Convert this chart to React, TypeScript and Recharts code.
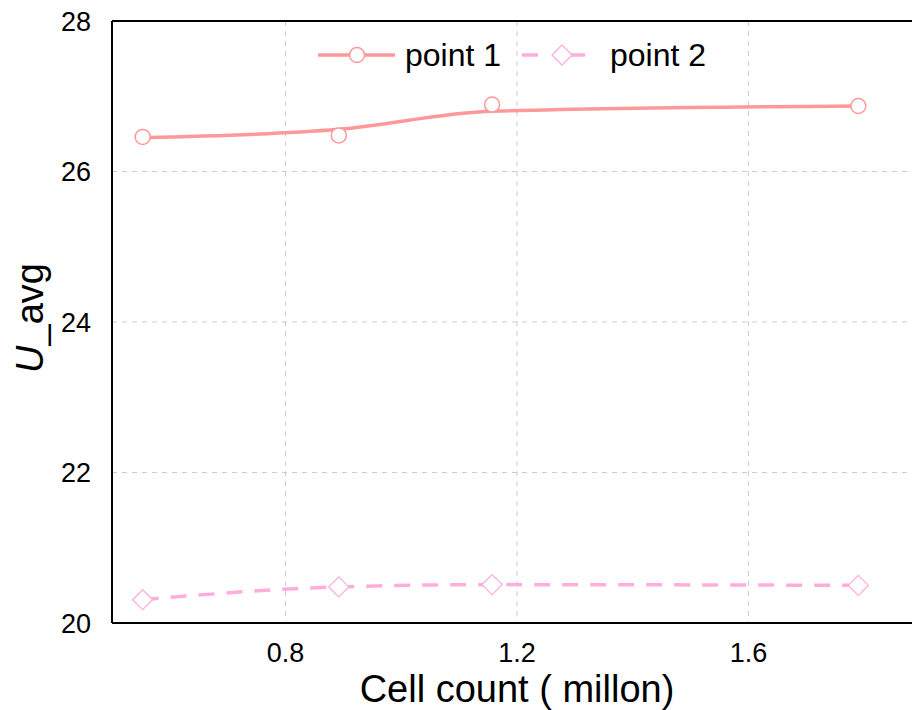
import React from 'react';
import { LineChart, Line, XAxis, YAxis, CartesianGrid, ReferenceLine } from 'recharts';

// cell counts (millions) of the four meshes
const cellCounts = [0.553, 0.892, 1.157, 1.79];
// measured U_avg values (markers)
const point1 = [26.46, 26.48, 26.89, 26.87];
const point2 = [20.31, 20.48, 20.51, 20.5];
// smoothed curve drawn through point 1
const point1Curve = [26.45, 26.56, 26.8, 26.87];

const xTicks = [0.8, 1.2, 1.6];
const yTicks = [20, 22, 24, 26, 28];

const COLOR_1 = '#ff9999';
const COLOR_2 = '#ffaedc';
const FONT = '"Liberation Sans", Arial, sans-serif';

const data = cellCounts.map((x, i) => ({
  x,
  p1: point1[i],
  p1Curve: point1Curve[i],
  p2: point2[i],
}));

const CircleDot = (props: any) => {
  const { cx, cy, index } = props;
  if (cx == null || cy == null) return <g key={`c-${index}`} />;
  return <circle key={`c-${index}`} cx={cx} cy={cy} r={7.5} fill="#fff" stroke={COLOR_1} strokeWidth={1.5} />;
};

const DiamondDot = (props: any) => {
  const { cx, cy, index } = props;
  if (cx == null || cy == null) return <g key={`d-${index}`} />;
  const s = 10;
  return (
    <path
      key={`d-${index}`}
      d={`M${cx},${cy - s} L${cx + s},${cy} L${cx},${cy + s} L${cx - s},${cy} Z`}
      fill="#fff"
      stroke={COLOR_2}
      strokeWidth={1.3}
    />
  );
};

// legend drawn on top of the plot, like the original
const LegendOverlay = () => (
  <svg width={912} height={90} style={{ position: 'absolute', left: 0, top: 0, pointerEvents: 'none' }}>
    <line x1={318} x2={395} y1={55} y2={55} stroke={COLOR_1} strokeWidth={3.5} />
    <circle cx={357} cy={55} r={7.5} fill="#fff" stroke={COLOR_1} strokeWidth={1.5} />
    <text x={405} y={55} dominantBaseline="central" fontSize={32} fontFamily={FONT} fill="#000">
      point 1
    </text>
    <line x1={522} x2={538} y1={55} y2={55} stroke={COLOR_2} strokeWidth={3.5} />
    <line x1={568} x2={585} y1={55} y2={55} stroke={COLOR_2} strokeWidth={3.5} />
    <path d="M562,45 L572,55 L562,65 L552,55 Z" fill="#fff" stroke={COLOR_2} strokeWidth={1.3} />
    <text x={610} y={55} dominantBaseline="central" fontSize={32} fontFamily={FONT} fill="#000">
      point 2
    </text>
  </svg>
);

export default function App() {
  return (
    <div
      style={{
        position: 'absolute',
        left: 0,
        top: 0,
        width: 912,
        height: 710,
        overflow: 'hidden',
        background: '#fff',
      }}
    >
      <LineChart width={922} height={710} data={data} margin={{ top: 21, right: 0, bottom: 0, left: 0 }}>
        <CartesianGrid stroke="#cccccc" strokeDasharray="5 5" strokeWidth={1} />
        <XAxis
          dataKey="x"
          type="number"
          domain={[0.5, 1.9]}
          ticks={xTicks}
          allowDataOverflow
          height={87}
          tickLine={false}
          tickSize={0}
          tickMargin={20}
          axisLine={{ stroke: '#000', strokeWidth: 2 }}
          tick={{ fill: '#000', fontSize: 27, fontFamily: FONT }}
          label={{
            content: () => (
              <text x={517} y={702} textAnchor="middle" fontSize={38} fontFamily={FONT} fill="#000">
                Cell count ( millon)
              </text>
            ),
          }}
        />
        <YAxis
          type="number"
          domain={[20, 28]}
          ticks={yTicks}
          width={112}
          tickLine={false}
          tickSize={0}
          tickMargin={21}
          axisLine={{ stroke: '#000', strokeWidth: 2 }}
          tick={{ fill: '#000', fontSize: 27, fontFamily: FONT }}
          label={{
            content: () => (
              <text
                x={30}
                y={318}
                transform="rotate(-90, 30, 318)"
                textAnchor="middle"
                dominantBaseline="central"
                fontSize={38}
                fontFamily={FONT}
                fill="#000"
              >
                <tspan fontStyle="italic">U</tspan>
                <tspan>_avg</tspan>
              </text>
            ),
          }}
        />
        <ReferenceLine y={28} stroke="#000" strokeWidth={2} />
        <Line
          dataKey="p1Curve"
          type="monotone"
          stroke={COLOR_1}
          strokeWidth={3.5}
          dot={false}
          activeDot={false}
          isAnimationActive={false}
        />
        <Line dataKey="p1" stroke="none" dot={CircleDot} activeDot={false} isAnimationActive={false} />
        <Line
          dataKey="p2"
          type="monotone"
          stroke={COLOR_2}
          strokeWidth={3.5}
          strokeDasharray="16 12"
          dot={DiamondDot}
          activeDot={false}
          isAnimationActive={false}
        />
      </LineChart>
      <LegendOverlay />
    </div>
  );
}
